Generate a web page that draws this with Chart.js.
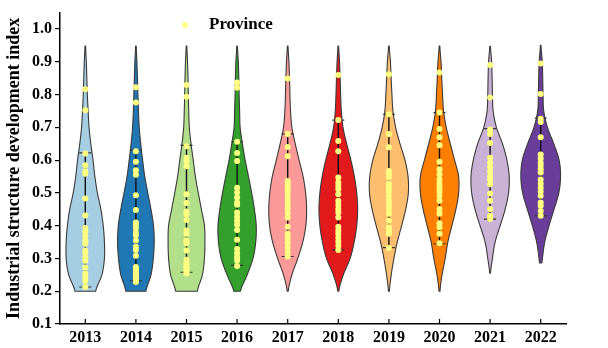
<!DOCTYPE html>
<html>
<head>
<meta charset="utf-8">
<script src="https://cdn.jsdelivr.net/npm/chart.js@4/dist/chart.umd.min.js"></script>
<style>
  html, body { margin: 0; padding: 0; background: #fff; }
  canvas { display: block; }
</style>
</head>
<body>
<canvas id="c" width="608" height="348"></canvas>
<script>
// Years on the horizontal axis
const years = ['2013', '2014', '2015', '2016', '2017', '2018', '2019', '2020', '2021', '2022'];

// Y-axis tick values
const yTicks = [0.1, 0.2, 0.3, 0.4, 0.5, 0.6, 0.7, 0.8, 0.9, 1.0];

// Province-level index values per year
const p2013 = [0.816, 0.752, 0.620, 0.584, 0.566, 0.558, 0.483, 0.431, 0.393, 0.382, 0.368, 0.355, 0.345, 0.324, 0.317, 0.304, 0.293, 0.272, 0.254, 0.241, 0.231, 0.213];
const p2014 = [0.822, 0.776, 0.627, 0.595, 0.569, 0.555, 0.493, 0.448, 0.410, 0.401, 0.393, 0.379, 0.371, 0.355, 0.336, 0.326, 0.308, 0.274, 0.268, 0.262, 0.257, 0.252, 0.246, 0.240, 0.234, 0.228];
const p2015 = [0.829, 0.793, 0.642, 0.607, 0.597, 0.581, 0.496, 0.469, 0.443, 0.435, 0.417, 0.385, 0.375, 0.355, 0.346, 0.324, 0.296, 0.286, 0.280, 0.274, 0.269, 0.264, 0.259, 0.254];
const p2016 = [0.837, 0.821, 0.656, 0.622, 0.597, 0.516, 0.501, 0.486, 0.471, 0.464, 0.440, 0.427, 0.415, 0.403, 0.387, 0.357, 0.329, 0.316, 0.304, 0.294, 0.277];
const p2017 = [0.849, 0.680, 0.640, 0.612, 0.536, 0.526, 0.516, 0.504, 0.491, 0.478, 0.466, 0.454, 0.440, 0.425, 0.397, 0.375, 0.363, 0.349, 0.334, 0.319, 0.306];
const p2018 = [0.860, 0.722, 0.658, 0.627, 0.547, 0.532, 0.521, 0.511, 0.496, 0.476, 0.464, 0.451, 0.440, 0.425, 0.397, 0.385, 0.375, 0.363, 0.352, 0.339, 0.326];
const p2019 = [0.862, 0.740, 0.680, 0.639, 0.567, 0.557, 0.547, 0.528, 0.516, 0.504, 0.491, 0.476, 0.464, 0.451, 0.436, 0.415, 0.395, 0.385, 0.375, 0.332];
const p2020 = [0.867, 0.745, 0.695, 0.670, 0.645, 0.595, 0.572, 0.557, 0.541, 0.528, 0.516, 0.504, 0.491, 0.476, 0.451, 0.436, 0.407, 0.395, 0.375, 0.346];
const p2021 = [0.890, 0.791, 0.693, 0.680, 0.652, 0.607, 0.592, 0.579, 0.565, 0.551, 0.541, 0.526, 0.498, 0.476, 0.451, 0.430, 0.420];
const p2022 = [0.895, 0.802, 0.726, 0.716, 0.670, 0.617, 0.605, 0.592, 0.582, 0.572, 0.562, 0.541, 0.528, 0.516, 0.504, 0.491, 0.471, 0.461, 0.445, 0.430];
const provinceValues = [p2013, p2014, p2015, p2016, p2017, p2018, p2019, p2020, p2021, p2022];

// Whisker caps (lower / upper) per year
const capLow  = [0.213, 0.232, 0.258, 0.279, 0.306, 0.326, 0.333, 0.345, 0.420, 0.430];
const capHigh = [0.622, 0.630, 0.645, 0.656, 0.680, 0.722, 0.740, 0.745, 0.696, 0.728];

// Violin extent per year
const violinLow  = [0.200, 0.200, 0.200, 0.200, 0.200, 0.200, 0.200, 0.200, 0.255, 0.286];
const violinHigh = [0.950, 0.950, 0.950, 0.950, 0.950, 0.950, 0.950, 0.950, 0.950, 0.950];

// Density levels and the violin half-width at each level (in category units)
const densityLevels = [0.20, 0.25, 0.30, 0.35, 0.40, 0.45, 0.50, 0.55, 0.60, 0.65, 0.70, 0.75, 0.80, 0.85, 0.90, 0.95];
const d2013 = [0.205, 0.328, 0.378, 0.378, 0.354, 0.308, 0.239, 0.189, 0.153, 0.109, 0.074, 0.056, 0.040, 0.030, 0.020, 0.006];
const d2014 = [0.199, 0.298, 0.344, 0.362, 0.348, 0.298, 0.235, 0.175, 0.133, 0.095, 0.066, 0.050, 0.040, 0.030, 0.020, 0.006];
const d2015 = [0.215, 0.314, 0.354, 0.364, 0.354, 0.294, 0.233, 0.175, 0.133, 0.089, 0.056, 0.044, 0.036, 0.030, 0.020, 0.006];
const d2016 = [0.066, 0.199, 0.314, 0.368, 0.378, 0.342, 0.288, 0.225, 0.159, 0.105, 0.060, 0.050, 0.040, 0.034, 0.024, 0.006];
const d2017 = [0.010, 0.083, 0.199, 0.298, 0.358, 0.374, 0.354, 0.304, 0.225, 0.149, 0.083, 0.056, 0.044, 0.036, 0.024, 0.006];
const d2018 = [0.010, 0.099, 0.233, 0.314, 0.364, 0.382, 0.364, 0.318, 0.249, 0.165, 0.093, 0.060, 0.046, 0.036, 0.024, 0.006];
const d2019 = [0.010, 0.046, 0.099, 0.165, 0.252, 0.332, 0.384, 0.378, 0.318, 0.219, 0.133, 0.080, 0.060, 0.044, 0.030, 0.006];
const d2020 = [0.010, 0.050, 0.113, 0.165, 0.245, 0.324, 0.378, 0.378, 0.298, 0.213, 0.133, 0.080, 0.060, 0.044, 0.030, 0.006];
const d2021 = [0.000, 0.004, 0.046, 0.099, 0.199, 0.298, 0.364, 0.378, 0.332, 0.245, 0.125, 0.060, 0.046, 0.040, 0.030, 0.006];
const d2022 = [0.000, 0.000, 0.034, 0.080, 0.165, 0.264, 0.358, 0.392, 0.364, 0.258, 0.133, 0.060, 0.046, 0.040, 0.030, 0.006];
const densities = [d2013, d2014, d2015, d2016, d2017, d2018, d2019, d2020, d2021, d2022];

// Paired palette, one colour per year
const violinColors = ['#a6cee3', '#1f78b4', '#b2df8a', '#33a02c', '#fb9a99', '#e31a1c', '#fdbf6f', '#ff7f00', '#cab2d6', '#6a3d9a'];

const FONT = '"Liberation Serif", "Times New Roman", serif';

// Scatter points: one per province, placed on its year's position
const scatterData = [];
provinceValues.forEach((vals, i) => vals.forEach(v => scatterData.push({ x: i + 1, y: v })));

// Smooth (Catmull-Rom) half-width at value v
function halfWidth(dens, v) {
  const n = densityLevels.length;
  const step = densityLevels[1] - densityLevels[0];
  let t = (v - densityLevels[0]) / step;
  let k = Math.floor(t);
  if (k < 0) k = 0;
  if (k > n - 2) k = n - 2;
  const u = t - k;
  const p0 = dens[Math.max(k - 1, 0)], p1 = dens[k], p2 = dens[k + 1], p3 = dens[Math.min(k + 2, n - 1)];
  const w = 0.5 * ((2 * p1) + (-p0 + p2) * u + (2 * p0 - 5 * p1 + 4 * p2 - p3) * u * u + (-p0 + 3 * p1 - 3 * p2 + p3) * u * u * u);
  return Math.max(w, 0);
}

const violinPlugin = {
  id: 'violins',
  beforeDatasetsDraw(chart) {
    const { ctx, scales: { x, y } } = chart;
    const unit = x.getPixelForValue(2) - x.getPixelForValue(1);
    ctx.save();
    densities.forEach((dens, i) => {
      const cx = x.getPixelForValue(i + 1);
      const lo = violinLow[i], hi = violinHigh[i];
      const stepV = 0.004;
      const right = [], left = [];
      for (let v = lo; v <= hi + 1e-9; v += stepV) {
        const w = halfWidth(dens, v) * unit;
        right.push([cx + w, y.getPixelForValue(v)]);
        left.push([cx - w, y.getPixelForValue(v)]);
      }
      ctx.beginPath();
      right.forEach((p, j) => j === 0 ? ctx.moveTo(p[0], p[1]) : ctx.lineTo(p[0], p[1]));
      for (let j = left.length - 1; j >= 0; j--) ctx.lineTo(left[j][0], left[j][1]);
      ctx.closePath();
      ctx.fillStyle = violinColors[i];
      ctx.fill();
      ctx.lineWidth = 1.1;
      ctx.strokeStyle = '#3a3a3a';
      ctx.lineJoin = 'round';
      ctx.stroke();

      // whisker line and caps
      const yLo = y.getPixelForValue(capLow[i]);
      const yHi = y.getPixelForValue(capHigh[i]);
      ctx.beginPath();
      ctx.moveTo(cx, yLo);
      ctx.lineTo(cx, yHi);
      ctx.lineWidth = 1.4;
      ctx.strokeStyle = '#111';
      ctx.stroke();
      ctx.beginPath();
      ctx.moveTo(cx - 6, yLo); ctx.lineTo(cx + 6, yLo);
      ctx.moveTo(cx - 6, yHi); ctx.lineTo(cx + 6, yHi);
      ctx.lineWidth = 1.1;
      ctx.strokeStyle = '#333';
      ctx.stroke();
    });
    ctx.restore();
  },
  afterDraw(chart) {
    const { ctx, chartArea, scales: { x } } = chart;
    ctx.save();
    // inward tick marks on the x axis
    ctx.strokeStyle = '#000';
    ctx.lineWidth = 1.2;
    x.ticks.forEach(t => {
      const px = x.getPixelForValue(t.value);
      ctx.beginPath();
      ctx.moveTo(px, chartArea.bottom);
      ctx.lineTo(px, chartArea.bottom - 5);
      ctx.stroke();
    });
    // legend
    const ds = chart.data.datasets[0];
    ctx.fillStyle = '#ffff88';
    ctx.beginPath();
    ctx.arc(185, 25, 3, 0, Math.PI * 2);
    ctx.fill();
    ctx.fillStyle = '#000';
    ctx.font = 'bold 17px ' + FONT;
    ctx.textBaseline = 'middle';
    ctx.textAlign = 'left';
    ctx.fillText(ds.label, 209, 25);
    ctx.restore();
  }
};

new Chart(document.getElementById('c'), {
  type: 'scatter',
  data: {
    datasets: [{
      label: 'Province',
      data: scatterData,
      backgroundColor: '#ffff80',
      borderWidth: 0,
      pointRadius: 3,
      pointHoverRadius: 3
    }]
  },
  plugins: [violinPlugin],
  options: {
    responsive: false,
    animation: false,
    layout: { padding: { top: 10, right: 42, left: 0, bottom: 0 } },
    plugins: {
      legend: { display: false },
      tooltip: { enabled: false }
    },
    scales: {
      x: {
        type: 'linear',
        min: 0.5,
        max: 10.5,
        afterBuildTicks: scale => { scale.ticks = years.map((_, i) => ({ value: i + 1 })); },
        afterFit: scale => { scale.height = 24; },
        grid: { display: false, drawTicks: false },
        border: { display: true, color: '#000', width: 1.5 },
        ticks: {
          color: '#000',
          padding: 4,
          maxRotation: 0,
          autoSkip: false,
          font: { family: FONT, size: 16, weight: 'bold' },
          callback: v => years[Math.round(v) - 1]
        }
      },
      y: {
        min: 0.1,
        max: 1.05,
        afterBuildTicks: scale => { scale.ticks = yTicks.map(v => ({ value: v })); },
        afterFit: scale => { scale.width = 60; },
        grid: { display: true, drawOnChartArea: false, drawTicks: true, tickLength: 5, color: '#000', lineWidth: 1.2 },
        border: { display: true, color: '#000', width: 1.5 },
        ticks: {
          color: '#000',
          padding: 3,
          font: { family: FONT, size: 16, weight: 'bold' },
          callback: v => v.toFixed(1)
        },
        title: {
          display: true,
          text: 'Industrial structure development index',
          color: '#000',
          padding: { top: 4, bottom: 0 },
          font: { family: FONT, size: 18, weight: 'bold' }
        }
      }
    }
  }
});
</script>
</body>
</html>
